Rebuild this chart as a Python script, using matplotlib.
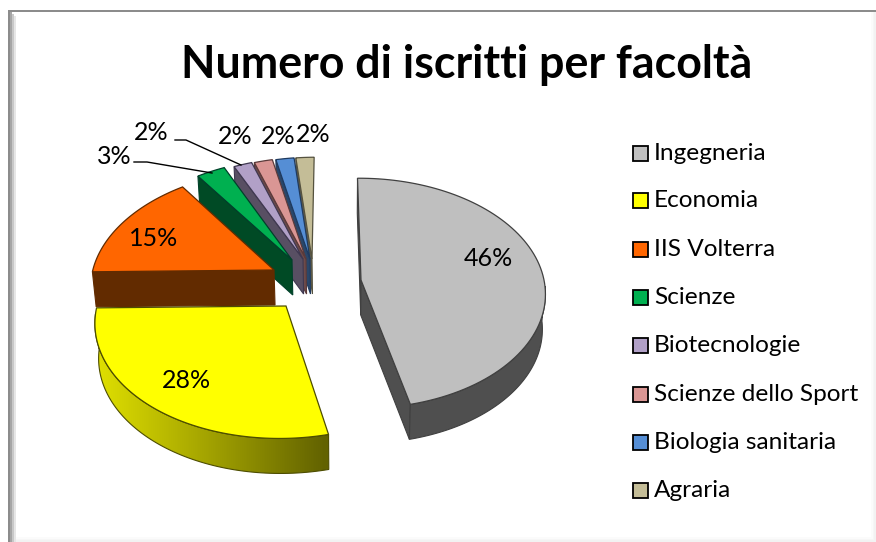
import numpy as np
import matplotlib
matplotlib.use("Agg")
import matplotlib.pyplot as plt
from matplotlib.patches import Polygon, Rectangle

title = "Numero di iscritti per facoltà"
categories = ["Ingegneria", "Economia", "IIS Volterra", "Scienze", "Biotecnologie",
              "Scienze dello Sport", "Biologia sanitaria", "Agraria"]
values = [46.4, 28.49, 15.11, 2.8, 1.8, 1.8, 1.8, 1.8]
top_colors = ["#bfbfbf", "#ffff00", "#ff6600", "#00b050", "#b1a0c7", "#da9694", "#558ed5", "#c4bd97"]
wall_colors = ["#4f4f4f", "#8f8f00", "#622b00", "#004a25", "#584f63", "#6d4b4a", "#2a476a", "#625e4b"]
edge_colors = ["#404040", "#4d4d00", "#622b00", "#00402a", "#3f3850", "#5a3a3a", "#1f3a5f", "#55523f"]

# layout of the exploded 3-D pie, in pixels
apex_x = [361, 286, 274, 292, 303, 306, 310, 312]
apex_y = [280, 306, 270, 260, 259, 259, 259, 259]
scale = [1.0, 1.033, 0.99, 1, 1, 1, 1, 1]
label_xy = [(488, 259), (186, 381), (154, 238), (114, 157), (151, 132), (235, 136), (278, 136), (313, 135)]
RX, RY, K, XC, THICK = 183, 115, 0.115, 343, 35
START = 90.5

FONT = "Lato"
fig = plt.figure(figsize=(8.76, 5.42), dpi=100, facecolor="white")
ax = fig.add_axes([0, 0, 1, 1])
ax.set_xlim(0, 876)
ax.set_ylim(542, 0)
ax.axis("off")

# frame with soft shadow
ax.add_patch(Rectangle((8, 10), 868, 2, fc="#8c8c8c", ec="none"))
for i, c in enumerate(["#8c8c8c", "#a6a6a6", "#c8c8c8", "#e6e6e6"]):
    ax.add_patch(Rectangle((8 + 2 * i, 10 + 2 * i), 2, 532, fc=c, ec="none"))
for i, c in enumerate(["#fbfbfb", "#f6f6f6", "#f2f2f2"]):
    ax.add_patch(Rectangle((871 + i * 1.7, 12), 1.7, 530, fc=c, ec="none"))
    ax.add_patch(Rectangle((16, 537 + i * 1.7), 860, 1.7, fc=c, ec="none"))


def project(i, t):
    t = np.radians(t)
    u, v = np.cos(t), np.sin(t)
    f = 1 - K * v
    s = scale[i]
    x = apex_x[i] + s * RX * u * f + (apex_x[i] - XC) * (f - 1)
    y = apex_y[i] - s * RY * v * f
    return x, y


def down(x, y):
    return x + (XC - x) * 0.015, y + THICK


bounds = START - np.cumsum([0] + values) * 3.6
apex_order = [7, 6, 5, 4, 3, 2, 0, 1]

for i in apex_order:
    t0, t1 = bounds[i], bounds[i + 1]
    ts = np.linspace(t0, t1, 90)
    ax_pts = np.array([project(i, t) for t in ts])
    apex = (apex_x[i], apex_y[i])
    ec = edge_colors[i]

    # radial walls
    edges = {0: [t0, t1], 1: []}.get(i, [t0])
    for t in edges:
        p = project(i, t)
        poly = [p, apex, down(*apex), down(*p)]
        ax.add_patch(Polygon(poly, closed=True, fc=wall_colors[i], ec=ec, lw=0.8, zorder=2))

    # outer wall
    if i in (0, 1):
        lo = -3 if i == 0 else t0
        hi = t1 if i == 0 else -176.0
        arc = np.array([project(i, t) for t in np.linspace(lo, hi, 80)])
        low = np.array([down(x, y) for x, y in arc])
        pts = np.vstack([arc, low[::-1]])
        if i == 0:
            ax.add_patch(Polygon(pts, closed=True, fc=wall_colors[i], ec=ec, lw=0.8, zorder=2))
        else:
            clip = Polygon(pts, closed=True, fc="none", ec=ec, lw=0.8, zorder=3)
            ax.add_patch(clip)
            grad = np.clip(np.linspace(-0.02, 1.04, 256), 0, 1)[None, :, None]
            a = np.array([225, 225, 0]) / 255
            b = np.array([98, 98, 0]) / 255
            img = ax.imshow(a + (b - a) * grad, extent=(90, 335, 520, 300), aspect="auto", zorder=2)
            img.set_clip_path(clip)
            ax.set_xlim(0, 876)
            ax.set_ylim(542, 0)

    # top surface
    top = np.vstack([[apex], ax_pts])
    ax.add_patch(Polygon(top, closed=True, fc=top_colors[i], ec=ec, lw=0.9, zorder=3))

# percentage labels
for v, (x, y) in zip(values, label_xy):
    ax.text(x, y, f"{round(v)}%", fontsize=18, family=FONT, ha="center", va="center", color="black", zorder=5)

# leader lines
ax.plot([134, 147, 212], [162, 162, 173], color="black", lw=1, zorder=4)
ax.plot([175, 186, 241], [140, 140, 165], color="black", lw=1, zorder=4)

# title
ax.text(467, 65, title, fontsize=32.2, family=FONT, fontweight="bold", ha="center", va="center", color="black")

# legend
legend_y = [153, 200, 249, 297, 345, 394, 442, 490]
for name, col, y in zip(categories, top_colors, legend_y):
    ax.add_patch(Rectangle((632.5, y - 7.5), 15, 15, fc=col, ec="black", lw=1.3))
    ax.text(654, y + 0.5, name, fontsize=17.6, family=FONT, ha="left", va="center", color="black")

fig.savefig("out.png", dpi=100)
